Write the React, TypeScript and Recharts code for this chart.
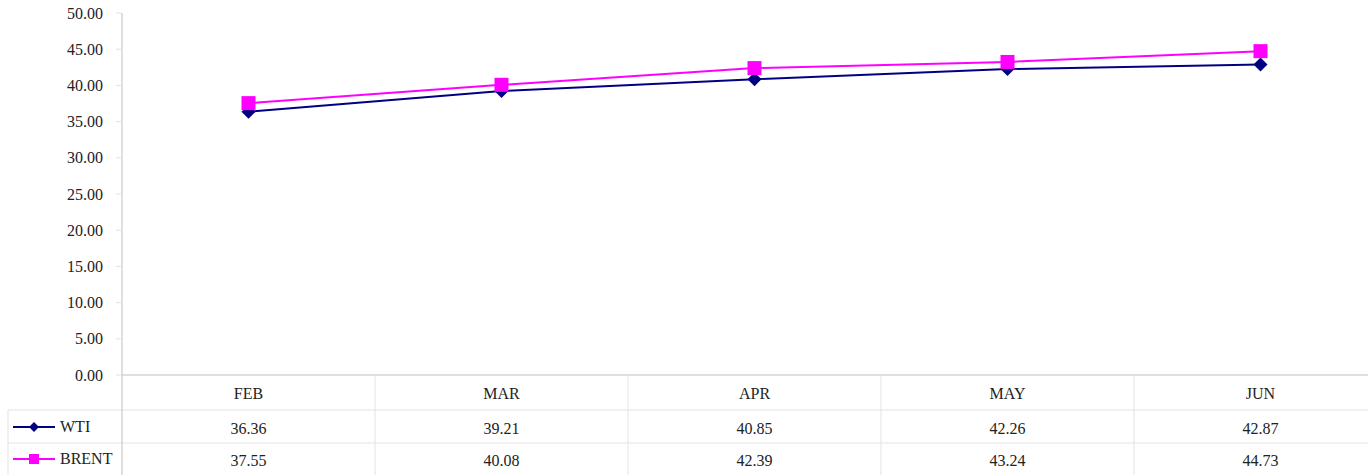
import React from "react";
import { LineChart, Line, XAxis, YAxis } from "recharts";

const months = ["FEB", "MAR", "APR", "MAY", "JUN"];
const wti = [36.36, 39.21, 40.85, 42.26, 42.87];
const brent = [37.55, 40.08, 42.39, 43.24, 44.73];
const yTicks = [0, 5, 10, 15, 20, 25, 30, 35, 40, 45, 50];

const data = months.map((m, i) => ({ month: m, WTI: wti[i], BRENT: brent[i] }));

const FONT = "'Liberation Serif', 'DejaVu Serif', serif";
const TEXT = "#222222";
const GRID = "#e3e3e3";
const AXIS = "#bfbfbf";
const NAVY = "#000080";
const MAGENTA = "#ff00ff";

const CHART_W = 1368;
const CHART_H = 475;
const Y_W = 122;
const RIGHT_OVERHANG = 19;
const BAND = (CHART_W + RIGHT_OVERHANG - Y_W) / months.length;

const Diamond = ({ cx, cy, r, fill }: any) =>
  cx == null || cy == null ? null : (
    <path d={`M${cx},${cy - r}L${cx + r},${cy}L${cx},${cy + r}L${cx - r},${cy}Z`} fill={fill} />
  );

const Square = ({ cx, cy, s, fill }: any) =>
  cx == null || cy == null ? null : <rect x={cx - s / 2} y={cy - s / 2} width={s} height={s} fill={fill} />;

const TableTick = (props: any) => {
  const { x, y, payload, index } = props;
  const half = BAND / 2;
  const row1 = y + 35;
  const row2 = y + 68;
  const bottom = y + 100;
  const i = index as number;
  return (
    <g>
      <line x1={x + half} y1={y} x2={x + half} y2={bottom} stroke={GRID} />
      <line x1={x - half} y1={row1} x2={x + half} y2={row1} stroke={GRID} />
      <line x1={x - half} y1={row2} x2={x + half} y2={row2} stroke={GRID} />
      <text x={x} y={y + 18} textAnchor="middle" dominantBaseline="central" fontSize={16} fill={TEXT} fontFamily={FONT}>
        {payload.value}
      </text>
      <text x={x} y={y + 53} textAnchor="middle" dominantBaseline="central" fontSize={16} fill={TEXT} fontFamily={FONT}>
        {wti[i].toFixed(2)}
      </text>
      <text x={x} y={y + 85} textAnchor="middle" dominantBaseline="central" fontSize={16} fill={TEXT} fontFamily={FONT}>
        {brent[i].toFixed(2)}
      </text>
      {i === 0 && (
        <g>
          <line x1={8} y1={row1} x2={x - half} y2={row1} stroke={GRID} />
          <line x1={8} y1={row2} x2={x - half} y2={row2} stroke={GRID} />
          <line x1={8} y1={row1} x2={8} y2={bottom} stroke={GRID} />
          <line x1={x - half} y1={y} x2={x - half} y2={bottom} stroke={AXIS} />
          <line x1={13} y1={y + 52} x2={55} y2={y + 52} stroke={NAVY} strokeWidth={2} />
          <Diamond cx={34} cy={y + 52} r={5} fill={NAVY} />
          <text x={60} y={y + 51} dominantBaseline="central" fontSize={16} fill={TEXT} fontFamily={FONT}>WTI</text>
          <line x1={13} y1={y + 84} x2={55} y2={y + 84} stroke={MAGENTA} strokeWidth={2} />
          <Square cx={34} cy={y + 84} s={10} fill={MAGENTA} />
          <text x={60} y={y + 83} dominantBaseline="central" fontSize={16} fill={TEXT} fontFamily={FONT}>BRENT</text>
        </g>
      )}
    </g>
  );
};

export default function App() {
  return (
    <div style={{ width: CHART_W, height: CHART_H, overflow: "hidden", background: "#fff" }}>
      <style>{`html,body{margin:0;padding:0;overflow:hidden;background:#fff}`}</style>
      <LineChart width={CHART_W} height={CHART_H} data={data} margin={{ top: 13, right: -RIGHT_OVERHANG, left: 0, bottom: 0 }}>
        <XAxis
          dataKey="month"
          scale="band"
          height={100}
          interval={0}
          axisLine={{ stroke: AXIS }}
          tickLine={false}
          tickSize={0}
          tickMargin={0}
          tick={<TableTick />}
        />
        <YAxis
          width={Y_W}
          domain={[0, 50]}
          ticks={yTicks}
          interval={0}
          tickFormatter={(v: number) => v.toFixed(2)}
          axisLine={{ stroke: AXIS }}
          tickLine={{ stroke: GRID }}
          tickSize={6}
          tickMargin={13}
          tick={{ fill: TEXT, fontSize: 16, fontFamily: FONT }}
        />
        <Line
          dataKey="WTI"
          type="linear"
          stroke={NAVY}
          strokeWidth={2}
          isAnimationActive={false}
          dot={(p: any) => <Diamond key={`w${p.index}`} cx={p.cx} cy={p.cy} r={7} fill={NAVY} />}
          activeDot={false}
        />
        <Line
          dataKey="BRENT"
          type="linear"
          stroke={MAGENTA}
          strokeWidth={2}
          isAnimationActive={false}
          dot={(p: any) => <Square key={`b${p.index}`} cx={p.cx} cy={p.cy} s={14} fill={MAGENTA} />}
          activeDot={false}
        />
      </LineChart>
    </div>
  );
}
